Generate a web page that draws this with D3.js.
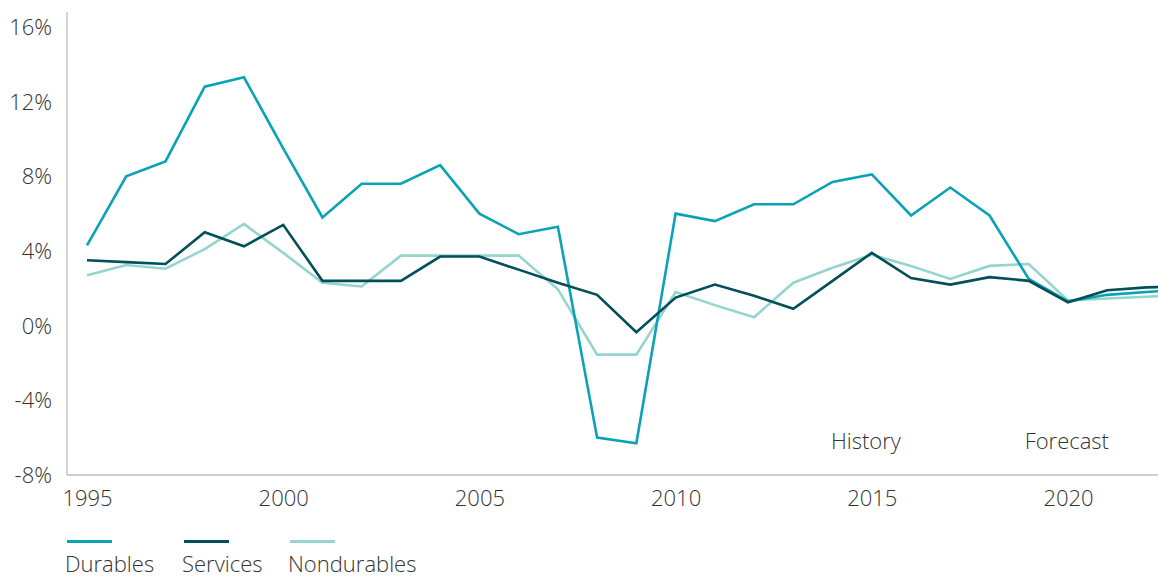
<!DOCTYPE html>
<html>
<head>
<meta charset="utf-8">
<script src="https://cdn.jsdelivr.net/npm/d3@7"></script>
<style>
  body { margin: 0; background: #fff; }
  svg text { font-family: "Open Sans", sans-serif; font-weight: 300; fill: #333; }
</style>
</head>
<body>
<div id="chart"></div>
<script>
var w = 1158;
var h = 576;

// years and growth rates (%), last year runs past the right edge
var years = [1995, 1996, 1997, 1998, 1999, 2000, 2001, 2002, 2003, 2004, 2005, 2006, 2007, 2008,
             2009, 2010, 2011, 2012, 2013, 2014, 2015, 2016, 2017, 2018, 2019, 2020, 2021, 2022, 2023];
var durables = [4.3, 8.0, 8.8, 12.8, 13.3, 9.5, 5.8, 7.6, 7.6, 8.6, 6.0, 4.9, 5.3, -6.0,
                -6.3, 6.0, 5.6, 6.5, 6.5, 7.7, 8.1, 5.9, 7.4, 5.9, 2.5, 1.3, 1.65, 1.8, 1.95];
var services = [3.5, 3.4, 3.3, 5.0, 4.25, 5.4, 2.4, 2.4, 2.4, 3.7, 3.7, 3.0, 2.3, 1.65,
                -0.35, 1.5, 2.2, 1.6, 0.9, 2.4, 3.9, 2.55, 2.2, 2.6, 2.4, 1.25, 1.9, 2.05, 2.1];
var nondurables = [2.7, 3.25, 3.05, 4.1, 5.45, 3.9, 2.3, 2.1, 3.75, 3.75, 3.75, 3.75, 1.95, -1.55,
                   -1.55, 1.8, 1.1, 0.45, 2.3, 3.1, 3.8, 3.2, 2.5, 3.2, 3.3, 1.35, 1.45, 1.55, 1.65];

var yTicks = [-8, -4, 0, 4, 8, 12, 16];
var xTicks = [1995, 2000, 2005, 2010, 2015, 2020];
var seriesNames = ["Durables", "Services", "Nondurables"];
var colors = ["#0aa3b5", "#004f59", "#95d5cd"];

// plot edges (don't call it "top", window.top is read only)
var plotL = 67, plotR = 1158, plotT = 12, plotB = 475;

var x = d3.scaleLinear().domain([1995, 2020]).range([87, 1068]);
var y = d3.scaleLinear().domain([-8, 16.8]).range([plotB, plotT]);

var svg = d3.select("#chart").append("svg")
            .attr("width", w)
            .attr("height", h);

svg.append("clipPath").attr("id", "plotClip")
   .append("rect")
   .attr("x", plotL).attr("y", 0)
   .attr("width", plotR - plotL).attr("height", plotB);

// y axis
var yAxis = svg.append("g")
               .attr("transform", "translate(" + plotL + ",0)")
               .call(d3.axisLeft(y).tickValues(yTicks).tickSize(0).tickPadding(15)
                        .tickFormat(function (d) { return d + "%"; }));
yAxis.select(".domain").remove();
yAxis.selectAll("text").style("font-size", "22px").attr("dy", "0.34em");

svg.append("line")
   .attr("x1", plotL).attr("x2", plotL)
   .attr("y1", plotT).attr("y2", plotB)
   .attr("stroke", "#bdbdbd").attr("stroke-width", 1.3);

// x axis
var xAxis = svg.append("g")
               .attr("transform", "translate(0," + plotB + ")")
               .call(d3.axisBottom(x).tickValues(xTicks).tickSize(0).tickPadding(15)
                        .tickFormat(d3.format("d")));
xAxis.select(".domain").remove();
xAxis.selectAll("text").style("font-size", "22px");

svg.append("line")
   .attr("x1", plotL).attr("x2", plotR)
   .attr("y1", plotB).attr("y2", plotB)
   .attr("stroke", "#bdbdbd").attr("stroke-width", 1.3);

// lines
var line = d3.line()
             .x(function (d) { return x(d[0]); })
             .y(function (d) { return y(d[1]); });

var allSeries = [durables, services, nondurables];
var plot = svg.append("g").attr("clip-path", "url(#plotClip)");

// light one first, dark on top like the picture
[2, 0, 1].forEach(function (k) {
    plot.append("path")
       .datum(years.map(function (yr, i) { return [yr, allSeries[k][i]]; }))
       .attr("d", line)
       .attr("fill", "none")
       .attr("stroke", colors[k])
       .attr("stroke-width", 2.6)
       .attr("stroke-linejoin", "miter");
});

// history / forecast labels
svg.append("text").attr("x", x(2014.85)).attr("y", y(-6.2))
   .attr("text-anchor", "middle").attr("dy", "0.34em")
   .style("font-size", "22px").text("History");
svg.append("text").attr("x", x(2019.97)).attr("y", y(-6.2))
   .attr("text-anchor", "middle").attr("dy", "0.34em")
   .style("font-size", "22px").text("Forecast");

// legend
var legendX = [67, 184, 290];
seriesNames.forEach(function (name, i) {
    svg.append("line")
       .attr("x1", legendX[i]).attr("x2", legendX[i] + 45)
       .attr("y1", 541.5).attr("y2", 541.5)
       .attr("stroke", colors[i]).attr("stroke-width", 3);
    svg.append("text")
       .attr("x", legendX[i] - 2).attr("y", 572)
       .style("font-size", "22px")
       .text(name);
});
</script>
</body>
</html>
